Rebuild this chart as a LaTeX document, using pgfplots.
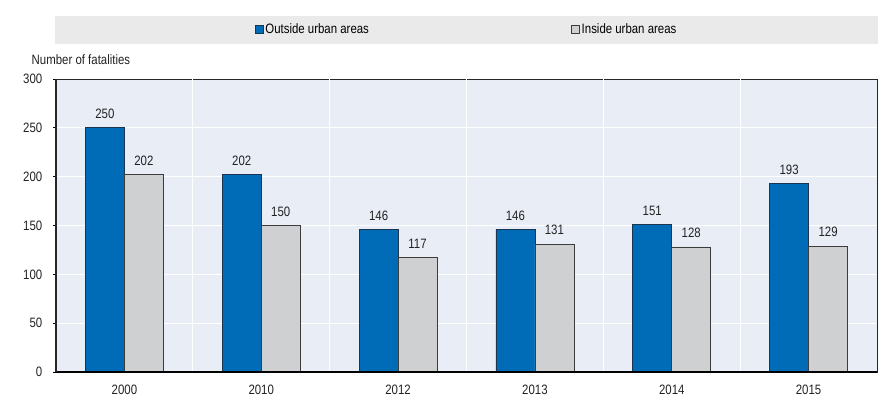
\documentclass[border=0pt]{standalone}
\usepackage{pgfplots}
\pgfplotsset{compat=1.18}
\usepackage{fontspec}
\setmainfont{Liberation Sans}[FakeStretch=0.84]
\definecolor{oblue}{HTML}{006BB6}
\definecolor{oblueedge}{HTML}{1B3550}
\definecolor{ogray}{HTML}{CFD0D2}
\definecolor{ograyedge}{HTML}{3C3C3C}
\definecolor{bg}{HTML}{E9EDF6}
\definecolor{leggray}{HTML}{EAEAEA}
\definecolor{txt}{HTML}{222222}
\newcommand{\fs}{\fontsize{13.6bp}{15bp}\selectfont}
\begin{document}
\fs
\begin{tikzpicture}
\begin{axis}[
  scale only axis,
  width=821bp, height=293bp,
  ybar=0pt, bar width=39bp,
  xmin=-0.5, xmax=5.5,
  ymin=0, ymax=300,
  ytick={0,50,...,300},
  ytick pos=left,
  xtick={0,1,2,3,4,5},
  xticklabels={2000,2010,2012,2013,2014,2015},
  x tick style={draw=none},
  extra x ticks={0.5,1.5,2.5,3.5,4.5},
  extra x tick labels={},
  extra x tick style={grid=major, major grid style={white, line width=1bp}, tick style={draw=black, line width=0.8bp}, major tick length=4bp, tick align=inside, xtick pos=bottom},
  ymajorgrids, major grid style={white, line width=1.2bp},
  y tick style={black, line width=0.8bp}, tick align=outside, major tick length=3bp,
  axis background/.style={fill=bg},
  axis line style={draw=black!85, line width=0.9bp},
  font=\fs,
  tick label style={font=\fs, text=txt},
  /pgf/number format/assume math mode=true,
  yticklabel style={xshift=-6bp},
  xticklabel style={yshift=-5bp},
  ylabel={Number of fatalities},
  ylabel style={rotate=-90, at={(axis description cs:0,1)}, anchor=base west, xshift=-29bp, yshift=15bp, text=txt},
  nodes near coords,
  every node near coord/.append style={font=\fs, text=txt, yshift=4bp},
  legend columns=2,
  legend style={at={(axis description cs:0.5,1)}, anchor=south, yshift=35bp,
    fill=leggray, draw=none, inner xsep=200bp, inner ysep=7bp,
    font=\fs,
    nodes={inner xsep=2bp, inner ysep=1bp},
    /tikz/every even column/.append style={column sep=200bp}},
  legend image code/.code={\draw[#1, line width=0.8bp] (0bp,-4bp) rectangle (8bp,4bp);},
  clip=false,
]
\addplot[fill=oblue, draw=oblueedge, line width=0.8bp] coordinates {(0,250) (1,202) (2,146) (3,146) (4,151) (5,193)};
\addlegendentry{Outside urban areas}
\addplot[fill=ogray, draw=ograyedge, line width=0.8bp] coordinates {(0,202) (1,150) (2,117) (3,131) (4,128) (5,129)};
\addlegendentry{Inside urban areas}
\draw[black, line width=2.6bp] (rel axis cs:0,0) -- (rel axis cs:1,0);
\draw[black!85, line width=1.6bp] (rel axis cs:0,0) -- (rel axis cs:0,1);
\end{axis}
\pgfresetboundingbox
\path[use as bounding box] (-56bp,-31bp) rectangle (832bp,372bp);
\end{tikzpicture}
\end{document}
